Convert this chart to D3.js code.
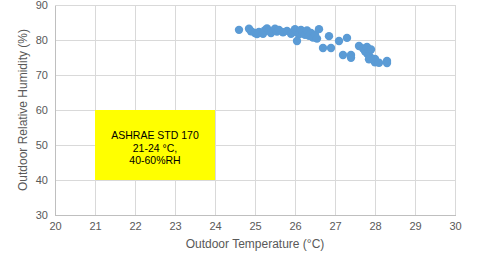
<!DOCTYPE html>
<html><head><meta charset="utf-8">
<script src="https://cdn.jsdelivr.net/npm/d3@7"></script>
<style>body{margin:0;background:#fff;}svg{display:block;font-family:"Liberation Sans",Arial,sans-serif;}</style>
</head><body>
<svg id="c" width="480" height="253"></svg>
<script>
const temps = [24.6,24.85,24.9,25.0,25.05,25.1,25.2,25.25,25.3,25.35,25.4,25.5,25.55,25.6,25.7,25.8,25.9,25.95,26.0,26.05,26.1,26.15,26.2,26.25,26.3,26.35,26.4,26.45,26.5,26.55,26.05,26.6,26.85,26.7,26.9,27.1,27.3,27.2,27.4,27.4,27.6,27.7,27.75,27.8,27.8,27.85,27.9,27.9,28.0,28.0,28.1,28.3,28.3,27.85];
const humid = [82.9,83.2,82.5,82.0,81.7,82.3,81.8,82.8,83.3,82.6,82.0,83.2,82.4,82.9,82.2,82.6,81.8,82.3,83.1,82.4,81.6,82.9,82.2,81.5,82.7,81.2,82.0,80.7,81.5,80.4,79.7,83.1,81.1,77.7,77.7,79.7,80.6,75.7,75.7,74.9,78.3,77.6,76.8,78.0,76.2,75.6,77.3,74.9,74.6,73.6,73.5,74.0,73.4,74.5];
const xTicks = [20,21,22,23,24,25,26,27,28,29,30];
const yTicks = [30,40,50,60,70,80,90];
const zoneT = [21,24];
const zoneRH = [40,60];
const zoneLabel = ["ASHRAE STD 170","21-24 \u00B0C,","40-60%RH"];
const xTitle = "Outdoor Temperature (\u00B0C)";
const yTitle = "Outdoor Relative Humidity (%)";

const svg = d3.select("#c");
const x = d3.scaleLinear().domain([20,30]).range([55,455]);
const y = d3.scaleLinear().domain([30,90]).range([215,5]);

// grid
svg.append("g").selectAll("line").data(xTicks).join("line")
  .attr("x1",d=>x(d)).attr("x2",d=>x(d)).attr("y1",y(30)).attr("y2",y(90))
  .attr("stroke","#d9d9d9").attr("stroke-width",1).attr("shape-rendering","crispEdges");
svg.append("g").selectAll("line").data(yTicks).join("line")
  .attr("x1",x(20)).attr("x2",x(30)).attr("y1",d=>y(d)).attr("y2",d=>y(d))
  .attr("stroke","#d9d9d9").attr("stroke-width",1).attr("shape-rendering","crispEdges");

// axes
const xa = svg.append("g").attr("transform",`translate(0,${y(30)})`)
  .call(d3.axisBottom(x).tickValues(xTicks).tickSize(0).tickPadding(7));
const ya = svg.append("g").attr("transform",`translate(${x(20)},0)`)
  .call(d3.axisLeft(y).tickValues(yTicks).tickSize(0).tickPadding(7));
[xa,ya].forEach(a=>{
  a.select(".domain").attr("stroke","#bfbfbf").attr("shape-rendering","crispEdges");
  a.selectAll("text").attr("fill","#595959").attr("font-size","11px").attr("font-family","Liberation Sans, Arial, sans-serif");
});

// zone box
svg.append("rect").attr("x",x(zoneT[0])).attr("y",y(zoneRH[1]))
  .attr("width",x(zoneT[1])-x(zoneT[0])).attr("height",y(zoneRH[0])-y(zoneRH[1]))
  .attr("fill","#ffff00");
const cx = (x(zoneT[0])+x(zoneT[1]))/2, cy=(y(zoneRH[0])+y(zoneRH[1]))/2;
svg.append("text").attr("x",cx).attr("y",cy-6).attr("text-anchor","middle")
  .attr("font-size","10.5px").attr("fill","#000")
  .selectAll("tspan").data(zoneLabel).join("tspan")
  .attr("x",cx).attr("dy",(d,i)=>i?12.5:0).text(d=>d);

// points
svg.append("g").selectAll("circle").data(temps.map((t,i)=>[t,humid[i]])).join("circle")
  .attr("cx",d=>x(d[0])).attr("cy",d=>y(d[1])).attr("r",4.2).attr("fill","#5b9bd5");

// titles
svg.append("text").attr("x",x(25)).attr("y",248).attr("text-anchor","middle")
  .attr("font-size","12px").attr("fill","#595959").text(xTitle);
svg.append("text").attr("transform",`translate(27,${y(60)}) rotate(-90)`).attr("text-anchor","middle")
  .attr("font-size","12px").attr("fill","#595959").text(yTitle);
</script>
</body></html>
